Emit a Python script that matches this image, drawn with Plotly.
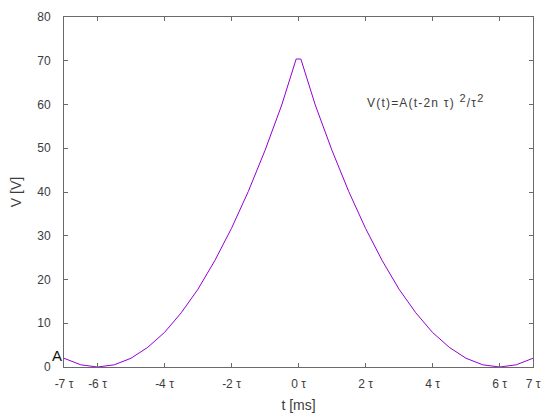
import plotly.graph_objects as go

# time in units of tau
t_tau = [-7, -6.5, -6, -5.5, -5, -4.5, -4, -3.5, -3, -2.5, -2, -1.5, -1, -0.5, -0.07,
         0.07, 0.5, 1, 1.5, 2, 2.5, 3, 3.5, 4, 4.5, 5, 5.5, 6, 6.5, 7]
voltage = [2.0, 0.5, 0.0, 0.5, 2.0, 4.5, 7.9, 12.4, 17.8, 24.3, 31.7, 40.1, 49.5, 59.9, 70.4,
           70.4, 59.9, 49.5, 40.1, 31.7, 24.3, 17.8, 12.4, 7.9, 4.5, 2.0, 0.5, 0.0, 0.5, 2.0]

x_tick_vals = [-7, -6, -4, -2, 0, 2, 4, 6, 7]
x_tick_text = ["-7 τ", "-6 τ", "-4 τ", "-2 τ", "0 τ", "2 τ", "4 τ", "6 τ", "7 τ"]
y_tick_vals = [0, 10, 20, 30, 40, 50, 60, 70, 80]

axis_col = "#6a6a6a"
txt_col = "#3c3c3c"
FAM = "Liberation Sans, Arial, sans-serif"
font = dict(family=FAM, size=12, color=txt_col)

fig = go.Figure()
fig.add_trace(go.Scatter(x=t_tau, y=voltage, mode="lines",
                         line=dict(color="#9400d3", width=1), showlegend=False,
                         hoverinfo="skip"))

fig.update_layout(
    width=560, height=420,
    margin=dict(l=56, r=35, t=9, b=61, autoexpand=False),
    paper_bgcolor="white", plot_bgcolor="white",
    font=font,
    xaxis=dict(range=[-7, 7], tickvals=x_tick_vals, ticktext=x_tick_text,
               showgrid=False, zeroline=False, showline=True, mirror="ticks",
               linecolor=axis_col, linewidth=1, ticks="inside", ticklen=4,
               tickcolor=axis_col, automargin=False, ticklabelstandoff=6,
               title=dict(text="t [ms]", standoff=9)),
    yaxis=dict(range=[0, 80], tickvals=y_tick_vals,
               showgrid=False, zeroline=False, showline=True, mirror="ticks",
               linecolor=axis_col, linewidth=1, ticks="inside", ticklen=4,
               tickcolor=axis_col, automargin=False, ticklabelstandoff=10,
               title=dict(text="V [V]", standoff=27)),
)

ann_text = ("<span style='letter-spacing:1.2px'>V(t)=A(t-2n τ) "
            "<sup><span style='font-size:11px'>2</span></sup>/τ"
            "<sup><span style='font-size:11px'>2</span></sup></span>")
fig.add_annotation(x=1.98, y=60.8, xref="x", yref="y", xanchor="left", yanchor="middle",
                   text=ann_text, showarrow=False,
                   font=dict(family=FAM, size=12, color=txt_col))
fig.add_annotation(x=0, y=2.6, xref="paper", yref="y", xanchor="right", yanchor="middle",
                   xshift=0, text="A", showarrow=False,
                   font=dict(family=FAM, size=15, color="#111"))

fig.write_html("out.html")
